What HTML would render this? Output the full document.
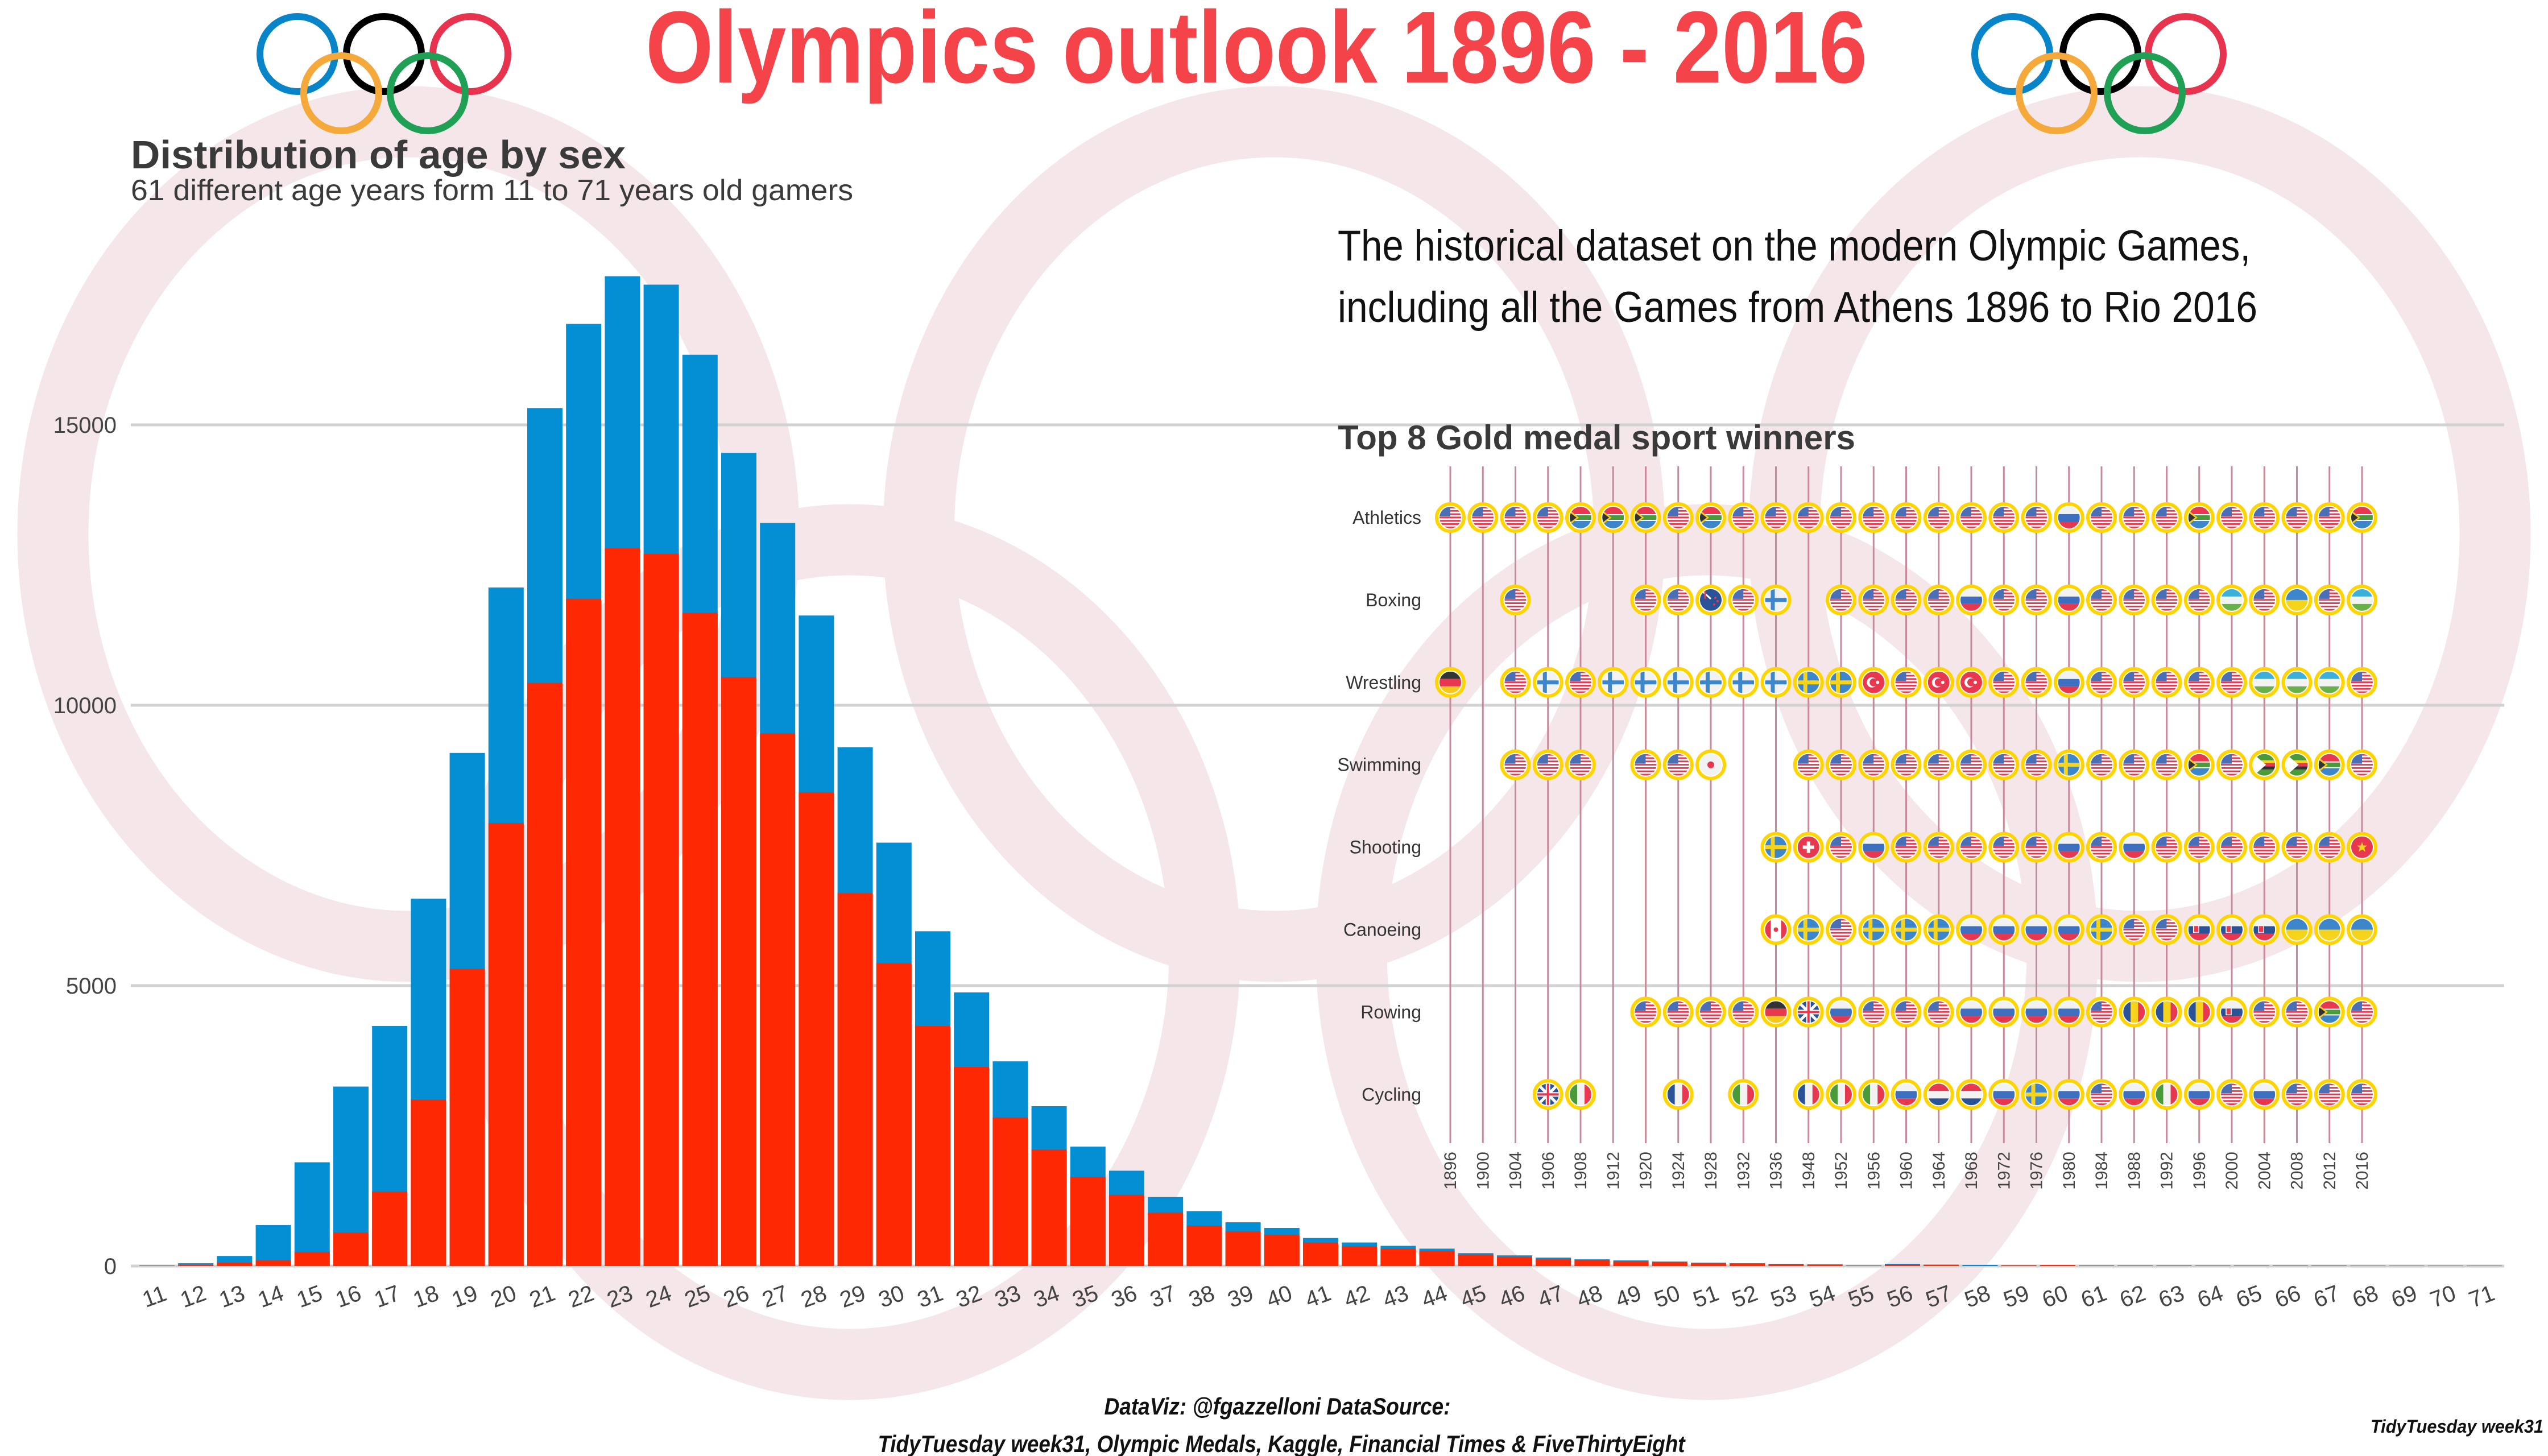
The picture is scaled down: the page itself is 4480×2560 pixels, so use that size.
<!DOCTYPE html>
<html><head><meta charset="utf-8"><style>
html,body{margin:0;padding:0;background:#fff}
svg{display:block}
text{font-family:"Liberation Sans Narrow","Liberation Sans",sans-serif}
</style></head><body>
<svg id="chart" width="4480" height="2560" viewBox="0 0 4480 2560" xmlns="http://www.w3.org/2000/svg">
<defs><clipPath id="fc"><circle cx="0" cy="0" r="19"/></clipPath></defs>
<g id="bgRings" fill="none" stroke="#f4e6e9" stroke-width="125">
<ellipse cx="718" cy="939" rx="625" ry="725"/>
<ellipse cx="2240" cy="939" rx="625" ry="725"/>
<ellipse cx="3762" cy="939" rx="625" ry="725"/>
<ellipse cx="1493" cy="1674" rx="625" ry="725"/>
<ellipse cx="3001" cy="1674" rx="625" ry="725"/>
</g>
<g fill="none" stroke-width="12">
<circle cx="523" cy="95" r="66" stroke="#0885c8"/>
<circle cx="675" cy="95" r="66" stroke="#000"/>
<circle cx="827" cy="95" r="66" stroke="#e8334f"/>
<circle cx="600" cy="164" r="66" stroke="#f4a93a"/>
<circle cx="752" cy="164" r="66" stroke="#1fa055"/>
</g>
<g fill="none" stroke-width="12">
<circle cx="3538" cy="95" r="66" stroke="#0885c8"/>
<circle cx="3693" cy="95" r="66" stroke="#000"/>
<circle cx="3843" cy="95" r="66" stroke="#e8334f"/>
<circle cx="3616" cy="164" r="66" stroke="#f4a93a"/>
<circle cx="3771" cy="164" r="66" stroke="#1fa055"/>
</g>
<text x="1135" y="145" font-size="180" font-weight="bold" fill="#f5434a" textLength="2148" lengthAdjust="spacingAndGlyphs">Olympics outlook 1896 - 2016</text>
<text x="230" y="296" font-size="70" font-weight="bold" fill="#3a3a3a" textLength="870" lengthAdjust="spacingAndGlyphs">Distribution of age by sex</text>
<text x="230" y="352" font-size="52" fill="#3a3a3a" textLength="1270" lengthAdjust="spacingAndGlyphs">61 different age years form 11 to 71 years old gamers</text>
<text x="2352" y="458" font-size="76" fill="#111" textLength="1605" lengthAdjust="spacingAndGlyphs">The historical dataset on the modern Olympic Games,</text>
<text x="2352" y="566" font-size="76" fill="#111" textLength="1617" lengthAdjust="spacingAndGlyphs">including all the Games from Athens 1896 to Rio 2016</text>
<g id="grid"></g>
<g id="bars"></g>
<g id="xlabels"></g>
<g id="ylabels"></g>
<text x="2352" y="790" font-size="60" font-weight="bold" fill="#3a3a3a" textLength="910" lengthAdjust="spacingAndGlyphs">Top 8 Gold medal sport winners</text>
<g id="medals"></g>
<text x="2246" y="2487" font-size="42" font-weight="bold" font-style="italic" fill="#111" text-anchor="middle" textLength="609" lengthAdjust="spacingAndGlyphs">DataViz: @fgazzelloni DataSource:</text>
<text x="2253" y="2553" font-size="42" font-weight="bold" font-style="italic" fill="#111" text-anchor="middle" textLength="1419" lengthAdjust="spacingAndGlyphs">TidyTuesday week31, Olympic Medals, Kaggle, Financial Times &amp; FiveThirtyEight</text>
<text x="4472" y="2519" font-size="32" font-weight="bold" font-style="italic" fill="#111" text-anchor="end" textLength="304" lengthAdjust="spacingAndGlyphs">TidyTuesday week31</text>
</svg>
<script>
const ages = [11,12,13,14,15,16,17,18,19,20,21,22,23,24,25,26,27,28,29,30,31,32,33,34,35,36,37,38,39,40,41,42,43,44,45,46,47,48,49,50,51,52,53,54,55,56,57,58,59,60,61,62,63,64,65,66,67,68,69,70,71];
const totalCounts = [10,50,180,730,1850,3200,4280,6550,9150,12100,15300,16800,17650,17500,16250,14500,13250,11600,9250,7550,5970,4880,3650,2850,2130,1700,1230,980,780,680,500,420,360,310,230,190,150,120,100,80,60,50,40,30,10,40,25,20,15,20,10,10,10,8,8,8,8,6,6,6,6];
const redCounts = [5,20,60,100,250,600,1330,2970,5300,7900,10400,11900,12800,12700,11650,10500,9500,8450,6650,5400,4280,3550,2650,2080,1590,1270,950,720,620,560,420,350,310,270,200,160,120,110,80,75,55,45,35,25,10,30,20,10,15,20,10,10,10,8,8,8,8,6,6,6,6];
const yTicks = [0,5000,10000,15000];
const years = [1896,1900,1904,1906,1908,1912,1920,1924,1928,1932,1936,1948,1952,1956,1960,1964,1968,1972,1976,1980,1984,1988,1992,1996,2000,2004,2008,2012,2016];
const sports = ["Athletics","Boxing","Wrestling","Swimming","Shooting","Canoeing","Rowing","Cycling"];
const winners = [
"USA USA USA USA RSA RSA RSA USA RSA USA USA USA USA USA USA USA USA USA USA RUS USA USA USA RSA USA USA USA USA RSA",
"- - USA - - - USA USA NZL USA FIN - USA USA USA USA RUS USA USA RUS USA USA USA USA UZB USA UKR USA UZB",
"GER - USA FIN USA FIN FIN FIN FIN FIN FIN SWE SWE TUR USA TUR TUR USA USA RUS USA USA USA USA USA UZB UZB UZB USA",
"- - USA USA USA - USA USA JPN - - USA USA USA USA USA USA USA USA SWE USA USA USA RSA USA ZIM ZIM RSA USA",
"- - - - - - - - - - SWE SUI USA RUS USA USA USA USA USA RUS USA RUS USA USA USA USA USA USA CHN",
"- - - - - - - - - - CAN SWE USA SWE SWE SWE RUS RUS RUS RUS SWE USA USA SVK SVK SVK UKR UKR UKR",
"- - - - - - USA USA USA USA GER GBR RUS USA USA USA RUS RUS RUS RUS USA ROU ROU ROU SVK USA USA RSA USA",
"- - - GBR ITA - - FRA - ITA - FRA ITA ITA RUS NED NED RUS SWE RUS USA RUS ITA RUS USA RUS USA USA USA"
];
const NS="http://www.w3.org/2000/svg";
const X0=276, DX=68.2, BW=62, Y0=2226, K=(2226-747)/15000;
const xAge=a=>X0+(a-11)*DX;
const yVal=v=>Y0-v*K;
function mk(tag,attrs,parent){const e=document.createElementNS(NS,tag);for(const k in attrs)e.setAttribute(k,attrs[k]);parent.appendChild(e);return e;}
const grid=document.getElementById('grid'),bars=document.getElementById('bars'),xl=document.getElementById('xlabels'),yl=document.getElementById('ylabels');
yTicks.forEach(t=>{
  const l=mk('line',{x1:230,x2:4403,y1:yVal(t),y2:yVal(t),stroke:'#d2d2d2','stroke-width':5},grid);
  
  
  const tx=mk('text',{x:205,y:yVal(t)+14,'font-size':40,fill:'#444','text-anchor':'end'},yl);
  tx.textContent=t;
  
  
});
ages.forEach((a,i)=>{
  const x=xAge(a)-BW/2;
  const b=mk('rect',{x:x,y:yVal(totalCounts[i]),width:BW,height:Y0-yVal(totalCounts[i]),fill:'#048fd5'},bars);
  
  
  const r=mk('rect',{x:x,y:yVal(redCounts[i]),width:BW,height:Y0-yVal(redCounts[i]),fill:'#fe2802'},bars);
  
  
  const t=mk('text',{x:0,y:0,'font-size':40,fill:'#444','text-anchor':'middle',transform:`translate(${xAge(a)},2292) rotate(-20)`},xl);
  t.textContent=a;
  
  
});
// medal grid
const MX0=2550, MDX=(4153-2550)/28, RY0=910, RDY=144.9;
const flags={
USA:'<rect x="-19" y="-19" width="38" height="38" fill="#fff"/>'+[0,1,2,3,4,5,6].map(i=>`<rect x="-19" y="${-19+i*5.8}" width="38" height="2.9" fill="#e8384f"/>`).join('')+'<rect x="-19" y="-19" width="19" height="17" fill="#4a6fb5"/>',
RSA:'<rect x="-19" y="-19" width="38" height="19" fill="#e8384f"/><rect x="-19" y="0" width="38" height="19" fill="#3c86c9"/><rect x="-19" y="-6" width="38" height="12" fill="#fff"/><rect x="-19" y="-4" width="38" height="8" fill="#4a9a3a"/><polygon points="-19,-13 -3,0 -19,13" fill="#f6c81c"/><polygon points="-19,-9 -7,0 -19,9" fill="#333"/>',
GER:'<rect x="-19" y="-19" width="38" height="13" fill="#333"/><rect x="-19" y="-6" width="38" height="13" fill="#e8384f"/><rect x="-19" y="7" width="38" height="12" fill="#f6c81c"/>',
FIN:'<rect x="-19" y="-19" width="38" height="38" fill="#f2f2f2"/><rect x="-9" y="-19" width="7" height="38" fill="#3c86c9"/><rect x="-19" y="-3.5" width="38" height="7" fill="#3c86c9"/>',
SWE:'<rect x="-19" y="-19" width="38" height="38" fill="#3c86c9"/><rect x="-9" y="-19" width="7" height="38" fill="#f6d31c"/><rect x="-19" y="-3.5" width="38" height="7" fill="#f6d31c"/>',
TUR:'<rect x="-19" y="-19" width="38" height="38" fill="#e8384f"/><circle cx="-3" cy="0" r="9" fill="#fff"/><circle cx="0" cy="0" r="7" fill="#e8384f"/><circle cx="7" cy="0" r="3" fill="#fff"/>',
JPN:'<rect x="-19" y="-19" width="38" height="38" fill="#f2f2f2"/><circle cx="0" cy="0" r="6" fill="#e8384f"/>',
NZL:'<rect x="-19" y="-19" width="38" height="38" fill="#2a5397"/><rect x="-19" y="-19" width="19" height="17" fill="#2a5397"/><line x1="-19" y1="-19" x2="0" y2="-2" stroke="#fff" stroke-width="3"/><line x1="-10" y1="-19" x2="-10" y2="-2" stroke="#e8384f" stroke-width="3"/><circle cx="8" cy="-4" r="2" fill="#e8384f"/><circle cx="6" cy="8" r="2" fill="#e8384f"/><circle cx="12" cy="2" r="2" fill="#e8384f"/>',
CAN:'<rect x="-19" y="-19" width="38" height="38" fill="#fff"/><rect x="-19" y="-19" width="10" height="38" fill="#e8384f"/><rect x="9" y="-19" width="10" height="38" fill="#e8384f"/><circle cx="0" cy="0" r="4" fill="#e8384f"/>',
SUI:'<rect x="-19" y="-19" width="38" height="38" fill="#e8384f"/><rect x="-3" y="-10" width="6" height="20" fill="#fff"/><rect x="-10" y="-3" width="20" height="6" fill="#fff"/>',
RUS:'<rect x="-19" y="-19" width="38" height="13" fill="#f2f2f2"/><rect x="-19" y="-6" width="38" height="13" fill="#3c6fc0"/><rect x="-19" y="7" width="38" height="12" fill="#e8384f"/>',
GBR:'<rect x="-19" y="-19" width="38" height="38" fill="#2a5397"/><line x1="-19" y1="-19" x2="19" y2="19" stroke="#fff" stroke-width="5"/><line x1="19" y1="-19" x2="-19" y2="19" stroke="#fff" stroke-width="5"/><rect x="-4" y="-19" width="8" height="38" fill="#fff"/><rect x="-19" y="-4" width="38" height="8" fill="#fff"/><rect x="-2" y="-19" width="4" height="38" fill="#e8384f"/><rect x="-19" y="-2" width="38" height="4" fill="#e8384f"/>',
FRA:'<rect x="-19" y="-19" width="13" height="38" fill="#2a5397"/><rect x="-6" y="-19" width="13" height="38" fill="#f2f2f2"/><rect x="7" y="-19" width="12" height="38" fill="#e8384f"/>',
ITA:'<rect x="-19" y="-19" width="13" height="38" fill="#4a9a3a"/><rect x="-6" y="-19" width="13" height="38" fill="#f2f2f2"/><rect x="7" y="-19" width="12" height="38" fill="#e8384f"/>',
NED:'<rect x="-19" y="-19" width="38" height="13" fill="#e8384f"/><rect x="-19" y="-6" width="38" height="13" fill="#f2f2f2"/><rect x="-19" y="7" width="38" height="12" fill="#2a5397"/>',
CHN:'<rect x="-19" y="-19" width="38" height="38" fill="#e8384f"/><polygon points="0,-9 2.5,-3 9,-3 4,1 6,8 0,4 -6,8 -4,1 -9,-3 -2.5,-3" fill="#f6d31c"/>',
UKR:'<rect x="-19" y="-19" width="38" height="19" fill="#3c86c9"/><rect x="-19" y="0" width="38" height="19" fill="#f6d31c"/>',
UZB:'<rect x="-19" y="-19" width="38" height="13" fill="#3cb0d9"/><rect x="-19" y="-6" width="38" height="13" fill="#f2f2f2"/><rect x="-19" y="7" width="38" height="12" fill="#6ab04a"/>',
ROU:'<rect x="-19" y="-19" width="13" height="38" fill="#2a5397"/><rect x="-6" y="-19" width="13" height="38" fill="#f6d31c"/><rect x="7" y="-19" width="12" height="38" fill="#e8384f"/>',
SVK:'<rect x="-19" y="-19" width="38" height="13" fill="#f2f2f2"/><rect x="-19" y="-6" width="38" height="13" fill="#2a5397"/><rect x="-19" y="7" width="38" height="12" fill="#e8384f"/><rect x="-10" y="-7" width="9" height="12" fill="#e8384f" stroke="#fff" stroke-width="1.5"/>',
ZIM:'<rect x="-19" y="-19" width="38" height="38" fill="#4a9a3a"/><rect x="-19" y="-8" width="38" height="5" fill="#f6d31c"/><rect x="-19" y="-3" width="38" height="6" fill="#e8384f"/><rect x="-19" y="3" width="38" height="5" fill="#333"/><polygon points="-19,-19 3,0 -19,19" fill="#fff"/>'
};
const medals=document.getElementById('medals');
years.forEach((yr,j)=>{
  const x=MX0+j*MDX;
  const l=mk('line',{x1:x,x2:x,y1:820,y2:2010,stroke:'#c9899a','stroke-width':3},medals);
  
  
  const t=mk('text',{x:0,y:0,'font-size':30,fill:'#444','text-anchor':'end','font-family':'Liberation Sans, sans-serif',transform:`translate(${x+10},2025) rotate(-90)`},medals);
  t.textContent=yr;
  
  
});
sports.forEach((s,i)=>{
  const y=RY0+i*RDY;
  const t=mk('text',{x:2499,y:y+11,'font-size':32,fill:'#333','text-anchor':'end','font-family':'Liberation Sans, sans-serif'},medals);
  t.textContent=s;
  
  
  winners[i].split(' ').forEach((c,j)=>{
    if(c==='-')return;
    const g=mk('g',{transform:`translate(${MX0+j*MDX},${y})`},medals);
    
    
    mk('circle',{cx:0,cy:0,r:24,fill:'#fff',stroke:'#ffd400','stroke-width':6},g);
    const f=mk('g',{'clip-path':'url(#fc)'},g);
    f.innerHTML=flags[c]||'';
  });
});
</script>
</body></html>
